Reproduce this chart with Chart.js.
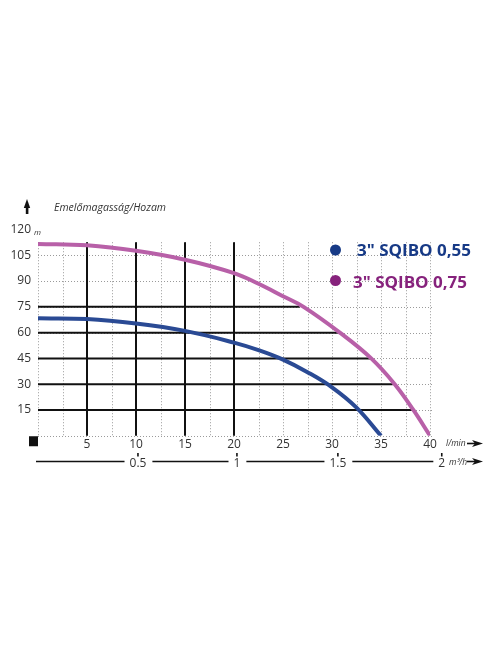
<!DOCTYPE html>
<html><head><meta charset="utf-8">
<script src="https://cdn.jsdelivr.net/npm/chart.js@4.4.1/dist/chart.umd.min.js"></script>
<style>html,body{margin:0;padding:0;background:#fff;}#wrap{width:496px;height:664px;position:relative}</style>
</head><body><div id="wrap"><canvas id="c" width="496" height="664"></canvas></div>
<script>
// ---- data ----
const seriesNames = ['3" SQIBO 0,55', '3" SQIBO 0,75'];
const blueFlow = [0, 5, 10, 15, 20, 22.5, 25, 27.5, 30, 32.5, 35];
const blueHead = [68.3, 67.9, 65.3, 61, 54.2, 49.8, 44.3, 37, 28.2, 16.4, 0];
const pinkFlow = [0, 5, 10, 15, 20, 22.5, 25, 27.1, 30.8, 34, 36.4, 38.3, 40];
const pinkHead = [111.6, 110.8, 107.6, 102.4, 94.6, 88.4, 81.2, 75, 60, 45, 30, 15, 0];
const yTicks = [15, 30, 45, 60, 75, 90, 105, 120];
const xTicks = [5, 10, 15, 20, 25, 30, 35, 40];
const blackHLevels = [15, 30, 45, 60, 75];
const blackHEnds = [38.3, 36.2, 33.9, 30.8, 26.7];
const blackVLines = [5, 10, 15, 20];
const m3Labels = ['0.5', '1', '1.5', '2'];
const m3TickAt = [10.2, 20.3, 30.6, 41.2];   // l/min position of each m³/h label
const titleText = 'Emelőmagasság/Hozam';
const yUnit = 'm', xUnit = 'l/min', x2Unit = 'm³/h';

const blueLine = '#2a4a94', pinkLine = '#b860a8';
const blueText = '#173a86', pinkText = '#86227c';
const txt = '#333';

const decor = {
  id: 'decor',
  beforeDatasetsDraw(chart) {
    const c = chart.ctx, x = chart.scales.x, y = chart.scales.y;
    const top = 112.6;
    c.save();
    // dotted grid
    c.strokeStyle = '#9a9a9a'; c.lineWidth = 1; c.setLineDash([1, 2]);
    for (let v = 0; v <= 40.01; v += 2.5) {
      const px = Math.round(x.getPixelForValue(v)) + 0.5;
      c.beginPath(); c.moveTo(px, y.getPixelForValue(top)); c.lineTo(px, y.getPixelForValue(0)); c.stroke();
    }
    for (let v = 0; v <= 105; v += 15) {
      const py = Math.round(y.getPixelForValue(v)) + 0.5;
      c.beginPath(); c.moveTo(x.getPixelForValue(0), py); c.lineTo(x.getPixelForValue(40.2), py); c.stroke();
    }
    c.setLineDash([]);
    // black grid
    c.strokeStyle = '#111'; c.lineWidth = 2;
    blackVLines.forEach(v => {
      const px = x.getPixelForValue(v);
      c.beginPath(); c.moveTo(px, y.getPixelForValue(top)); c.lineTo(px, y.getPixelForValue(0)); c.stroke();
    });
    blackHLevels.forEach((v, i) => {
      const py = y.getPixelForValue(v);
      c.beginPath(); c.moveTo(x.getPixelForValue(0), py); c.lineTo(x.getPixelForValue(blackHEnds[i]), py); c.stroke();
    });
    c.restore();
  },
  afterDraw(chart) {
    const c = chart.ctx, x = chart.scales.x, y = chart.scales.y;
    const x0 = x.getPixelForValue(0), y0 = y.getPixelForValue(0);
    c.save();
    // black square at origin
    c.fillStyle = '#111';
    c.fillRect(x0 - 9, y0 + 0.5, 9, 10);
    // title arrow
    c.fillStyle = '#111';
    c.beginPath(); c.moveTo(27, 199); c.lineTo(23.8, 208); c.lineTo(30.2, 208); c.closePath(); c.fill();
    c.fillRect(25.8, 206, 2.6, 8);
    // title
    c.fillStyle = txt; c.textBaseline = 'alphabetic'; c.textAlign = 'left';
    c.font = 'italic 10.5px "Open Sans"';
    fitText(c, titleText, 54, 211, 112);
    // y unit
    c.font = 'italic 8px "Open Sans"';
    c.fillText(yUnit, 34, y.getPixelForValue(120) + 5);
    // x unit
    c.font = 'italic 8.5px "Open Sans"';
    c.fillText(xUnit, 446, 446);
    // arrows
    drawArrow(c, 467, 483, 443.5);
    drawArrow(c, 467, 483, 461.5);
    // m3/h axis
    c.font = '12px "Open Sans"'; c.fillStyle = txt;
    c.strokeStyle = '#111'; c.lineWidth = 1.6;
    let start = 36;
    const ly = 461.5;
    m3Labels.forEach((lab, i) => {
      const px = x.getPixelForValue(m3TickAt[i]);
      const w = c.measureText(lab).width;
      c.beginPath(); c.moveTo(start, ly); c.lineTo(px - w / 2 - 5, ly); c.stroke();
      c.textAlign = 'center';
      c.fillText(lab, px, ly + 5);
      c.beginPath(); c.moveTo(px, 453); c.lineTo(px, 456.5); c.stroke();
      start = px + w / 2 + 6;
    });
    c.textAlign = 'left';
    c.font = 'italic 8.5px "Open Sans"';
    c.fillText(x2Unit, 449, 465);
    // legend
    const dots = [[335.5, 250, blueText, 256, 357], [335.5, 280.5, pinkText, 288, 353]];
    chart.data.datasets.forEach((ds, i) => {
      const d = dots[i];
      c.fillStyle = d[2];
      c.beginPath(); c.arc(d[0], d[1], 5.5, 0, Math.PI * 2); c.fill();
      c.font = 'bold 16px "Open Sans"';
      fitText(c, ds.label, d[4], d[3], 114);
    });
    c.restore();
  }
};
function fitText(c, s, px, py, w) {
  const m = c.measureText(s).width;
  c.save(); c.translate(px, py); c.scale(w / m, 1); c.fillText(s, 0, 0); c.restore();
}
function drawArrow(c, xa, xb, yy) {
  c.save(); c.strokeStyle = '#111'; c.fillStyle = '#111'; c.lineWidth = 1.6;
  c.beginPath(); c.moveTo(xa, yy); c.lineTo(xb - 6, yy); c.stroke();
  c.beginPath(); c.moveTo(xb, yy); c.lineTo(xb - 11, yy - 3.5); c.lineTo(xb - 8, yy); c.lineTo(xb - 11, yy + 3.5); c.closePath(); c.fill();
  c.restore();
}

new Chart(document.getElementById('c'), {
  type: 'scatter',
  data: {
    datasets: [
      { label: seriesNames[0], data: blueFlow.map((v, i) => ({ x: v, y: blueHead[i] })), showLine: true,
        borderColor: blueLine, backgroundColor: blueLine, borderWidth: 4, pointRadius: 0, tension: 0.4, fill: false },
      { label: seriesNames[1], data: pinkFlow.map((v, i) => ({ x: v, y: pinkHead[i] })), showLine: true,
        borderColor: pinkLine, backgroundColor: pinkLine, borderWidth: 4, pointRadius: 0, tension: 0.4, fill: false }
    ]
  },
  options: {
    responsive: false, animation: false,
    layout: { padding: { top: 229.5, left: 0, right: 66, bottom: 208.25 } },
    plugins: { legend: { display: false }, tooltip: { enabled: false } },
    scales: {
      x: { type: 'linear', min: 0, max: 40,
        afterBuildTicks: s => { s.ticks = xTicks.map(v => ({ value: v })); },
        afterFit: s => { s.height = 20; },
        grid: { display: false, drawTicks: false }, border: { display: false },
        ticks: { padding: 2, color: txt, font: { family: 'Open Sans', size: 12 } } },
      y: { type: 'linear', min: 0, max: 120,
        afterBuildTicks: s => { s.ticks = yTicks.map(v => ({ value: v })); },
        afterFit: s => { s.width = 38; },
        grid: { display: false, drawTicks: false }, border: { display: false },
        ticks: { padding: 7, color: txt, font: { family: 'Open Sans', size: 12 } } }
    }
  },
  plugins: [decor]
});
</script>
</body></html>
